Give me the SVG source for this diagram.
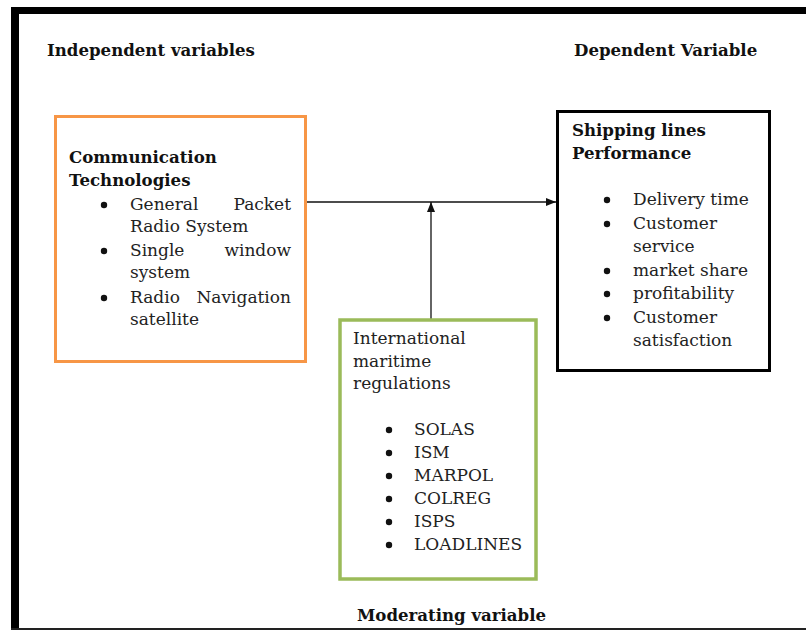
<svg xmlns="http://www.w3.org/2000/svg" width="806" height="632" viewBox="0 0 806 632">
<defs>
<style>
text{font-family:"DejaVu Serif","Liberation Serif",serif;font-size:17px;fill:#222}
.b{font-weight:bold;font-size:16.6px;fill:#111}
.e{text-anchor:end}
.dot{fill:#111}
</style>
<marker id="ah" markerWidth="10" markerHeight="8" refX="10" refY="4" orient="auto" markerUnits="userSpaceOnUse">
<path d="M0,0 L10,4 L0,8 Z" fill="#111"/>
</marker>
</defs>
<rect width="806" height="632" fill="#fff"/>
<g id="frame">
<rect x="11" y="7" width="795" height="7" fill="#000"/>
<rect x="11" y="7" width="8" height="623" fill="#000"/>
<rect x="11" y="628" width="795" height="2" fill="#222"/>
</g>
<g id="headings">
<text class="b" x="47" y="56">Independent variables</text>
<text class="b" x="574" y="56">Dependent Variable</text>
<text class="b" x="357" y="621" textLength="189" lengthAdjust="spacingAndGlyphs">Moderating variable</text>
</g>
<g id="connectors" stroke="#111" stroke-width="1.3" fill="none">
<line x1="307" y1="202" x2="556" y2="202" marker-end="url(#ah)"/>
<line x1="431" y1="319" x2="431" y2="202" marker-end="url(#ah)"/>
</g>
<g id="communication">
<rect x="55.5" y="116.5" width="250" height="245" fill="none" stroke="#F79646" stroke-width="3"/>
<text class="b" x="69" y="163">Communication</text>
<text class="b" x="69" y="186">Technologies</text>
<circle class="dot" cx="104" cy="205" r="3.2"/>
<text x="130" y="210">General</text><text class="e" x="291" y="210">Packet</text>
<text x="130" y="232">Radio System</text>
<circle class="dot" cx="104" cy="251" r="3.2"/>
<text x="130" y="256">Single</text><text class="e" x="291" y="256">window</text>
<text x="130" y="278">system</text>
<circle class="dot" cx="104" cy="298" r="3.2"/>
<text x="130" y="303">Radio</text><text class="e" x="291" y="303">Navigation</text>
<text x="130" y="325">satellite</text>
</g>
<g id="performance">
<rect x="557.5" y="111.5" width="212" height="259" fill="none" stroke="#000" stroke-width="3"/>
<text class="b" x="572" y="136">Shipping lines</text>
<text class="b" x="572" y="159">Performance</text>
<circle class="dot" cx="607" cy="200" r="3.2"/>
<text x="633" y="205">Delivery time</text>
<circle class="dot" cx="607" cy="224" r="3.2"/>
<text x="633" y="229">Customer</text>
<text x="633" y="252">service</text>
<circle class="dot" cx="607" cy="271" r="3.2"/>
<text x="633" y="276">market share</text>
<circle class="dot" cx="607" cy="294" r="3.2"/>
<text x="633" y="299">profitability</text>
<circle class="dot" cx="607" cy="318" r="3.2"/>
<text x="633" y="323">Customer</text>
<text x="633" y="346">satisfaction</text>
</g>
<g id="regulations">
<rect x="340" y="320" width="196" height="259" fill="none" stroke="#9BBB59" stroke-width="3.5"/>
<text x="353" y="344">International</text>
<text x="353" y="367">maritime</text>
<text x="353" y="389">regulations</text>
<circle class="dot" cx="389" cy="430" r="3.2"/>
<text x="414" y="435">SOLAS</text>
<circle class="dot" cx="389" cy="453" r="3.2"/>
<text x="414" y="458">ISM</text>
<circle class="dot" cx="389" cy="476" r="3.2"/>
<text x="414" y="481">MARPOL</text>
<circle class="dot" cx="389" cy="499" r="3.2"/>
<text x="414" y="504">COLREG</text>
<circle class="dot" cx="389" cy="522" r="3.2"/>
<text x="414" y="527">ISPS</text>
<circle class="dot" cx="389" cy="545" r="3.2"/>
<text x="414" y="550">LOADLINES</text>
</g>
</svg>
